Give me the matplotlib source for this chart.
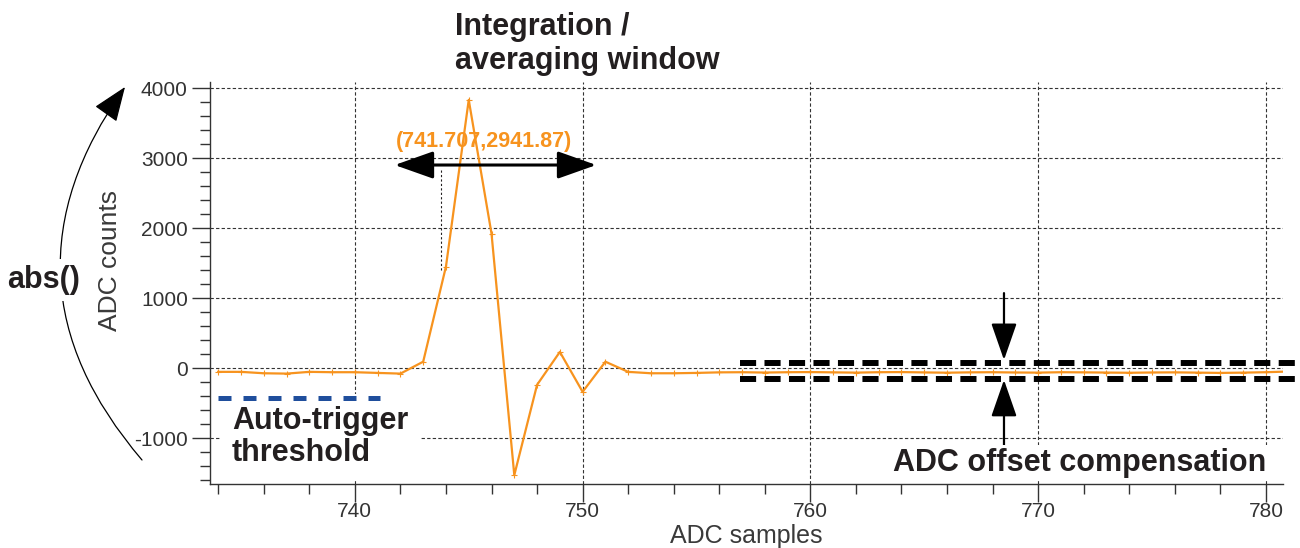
import matplotlib
matplotlib.use('Agg')
import matplotlib.pyplot as plt
from matplotlib.patches import FancyArrowPatch
from matplotlib.ticker import MultipleLocator

plt.rcParams['font.family'] = ['Liberation Sans', 'DejaVu Sans']
plt.rcParams['axes.unicode_minus'] = False

# waveform
samples = list(range(734, 782))
counts = [-55, -55, -75, -80, -55, -60, -60, -70, -80, 90,
          1450, 3830, 1920, -1530, -240, 230, -340, 90, -55, -75,
          -75, -70, -62, -60, -65, -60, -58, -62, -66, -60,
          -58, -63, -67, -62, -60, -64, -66, -60, -62, -65,
          -68, -64, -62, -66, -70, -66, -60, -50]

cursor_x = 743.8
cursor_span = [1400, 2860]
cursor_label = '(741.707,2941.87)'
cursor_label_pos = [745.66, 3230]

trigger_level = -430
trigger_span = [734.0, 741.1]

offset_levels = [70, -150]
offset_span = [756.9, 783.0]
offset_arrow_x = 768.5
offset_arrow_top = [1070, 115]
offset_arrow_bottom = [-1100, -170]

window_span = [741.75, 750.6]
window_y = 2900

ORANGE = '#f7931e'
INK = '#231f20'
GREY = '#333333'

W, H = 1300, 548


def px(x, y):
    return x / W, 1 - y / H


fig = plt.figure(figsize=(W / 100, H / 100), dpi=100)
ax = fig.add_axes([210 / W, 1 - 484 / H, 1073 / W, 402 / H])

ax.plot(samples, counts, color=ORANGE, lw=1.6, marker='+', ms=4, mew=0.8, zorder=3)
ax.set_xlim(733.64, 780.75)
ax.set_ylim(-1657, 4086)

ax.xaxis.set_major_locator(MultipleLocator(10))
ax.xaxis.set_minor_locator(MultipleLocator(2))
ax.yaxis.set_major_locator(MultipleLocator(1000))
ax.yaxis.set_minor_locator(MultipleLocator(200))
ax.grid(True, which='major', color=GREY, lw=0.8, ls=(0, (3, 2)))
for s in ['top', 'right']:
    ax.spines[s].set_visible(False)
for s in ['left', 'bottom']:
    ax.spines[s].set_color(GREY)
    ax.spines[s].set_linewidth(1)
ax.tick_params(which='major', length=13, width=1, color=GREY, labelsize=15, labelcolor=GREY)
ax.tick_params(which='minor', length=7, width=1, color=GREY)
ax.tick_params(axis='x', which='major', pad=0)
ax.tick_params(axis='y', which='major', pad=3)
ax.set_xlabel('ADC samples', fontsize=18, color='#3a3a3a', labelpad=2)
ax.set_ylabel('ADC counts', fontsize=19, color='#3a3a3a')
ax.yaxis.set_label_coords(-0.082, 0.555)

# cursor marker
ax.vlines(cursor_x, cursor_span[0], cursor_span[1], color=INK, lw=0.8, ls=(0, (2, 2)), zorder=2)
ax.text(cursor_label_pos[0], cursor_label_pos[1], cursor_label, color=ORANGE,
        fontsize=15.5, fontweight='bold', ha='center', va='center', zorder=5)

# auto-trigger threshold
ax.plot(trigger_span, [trigger_level, trigger_level], color='#1f4e9c', lw=3.6,
        ls=(0, (2.6, 2.4)), solid_capstyle='butt', zorder=4)

# offset compensation band
for lvl in offset_levels:
    ax.plot(offset_span, [lvl, lvl], color='black', lw=4.3, ls=(0, (2.7, 1.4)),
            clip_on=False, zorder=4)

arr_v = dict(arrowstyle='-|>,head_length=2.3,head_width=0.8', mutation_scale=10,
             color='black', lw=1.6, shrinkA=0, shrinkB=0, zorder=6)
ax.add_patch(FancyArrowPatch((offset_arrow_x, offset_arrow_top[0]),
                             (offset_arrow_x, offset_arrow_top[1]), **arr_v))
ax.add_patch(FancyArrowPatch((offset_arrow_x, offset_arrow_bottom[0]),
                             (offset_arrow_x, offset_arrow_bottom[1]), **arr_v))

# integration window
ax.add_patch(FancyArrowPatch((window_span[0], window_y), (window_span[1], window_y),
                             arrowstyle='<|-|>,head_length=2.4,head_width=0.85',
                             mutation_scale=10, color='black', lw=2.2,
                             shrinkA=0, shrinkB=0, zorder=6))

# annotations
bold = dict(fontsize=22, fontweight='bold', color=INK)
fig.text(*px(455, 44), 'Integration /\naveraging window', ha='left', va='center',
         linespacing=1.15, **bold)
# sits under the blue dashes but above the grid
ax.text(*px(232, 437), 'Auto-trigger\nthreshold', transform=fig.transFigure,
        ha='left', va='center', linespacing=1.08, zorder=3.8,
        bbox=dict(boxstyle='square,pad=0.4', fc='white', ec='none'), **bold)
fig.text(*px(893, 463), 'ADC offset compensation', ha='left', va='center', zorder=10,
         bbox=dict(boxstyle='square,pad=0.1', fc='white', ec='none'), **bold)

arc = FancyArrowPatch(px(142, 460), px(125, 87), transform=fig.transFigure,
                      connectionstyle='arc3,rad=-0.39',
                      arrowstyle='-|>,head_length=2.2,head_width=0.85',
                      mutation_scale=10, color='black', lw=0.9, shrinkA=0, shrinkB=0)
fig.add_artist(arc)
fig.text(*px(44, 280), 'abs()', ha='center', va='center', zorder=10,
         bbox=dict(boxstyle='square,pad=0.2', fc='white', ec='none'), **bold)

fig.savefig('out.png', dpi=100, facecolor='white')
